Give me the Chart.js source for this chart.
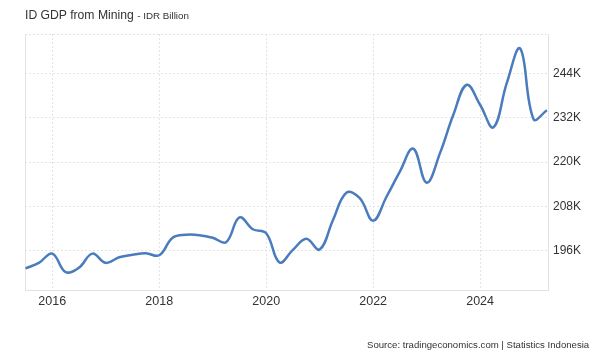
<!DOCTYPE html>
<html>
<head>
<meta charset="utf-8">
<script src="https://cdn.jsdelivr.net/npm/chart.js@4/dist/chart.umd.min.js"></script>
<style>
  html, body { margin: 0; padding: 0; background: #fff; }
  #wrap { position: relative; width: 598px; height: 355px; font-family: "Liberation Sans", Arial, sans-serif; }
  #title { position: absolute; left: 25px; top: 8px; font-size: 12.2px; color: #333; white-space: nowrap; }
  #title span { font-size: 9.8px; }
  #source { position: absolute; left: 367px; top: 339px; font-size: 9.6px; color: #333; white-space: nowrap; }
  canvas { position: absolute; left: 0; top: 0; }
</style>
</head>
<body>
<div id="wrap">
  <canvas id="c" width="598" height="355"></canvas>
  <div id="title">ID GDP from Mining <span>- IDR Billion</span></div>
  <div id="source">Source: tradingeconomics.com | Statistics Indonesia</div>
</div>
<script>
const quarters = [
  "2015Q2","2015Q3","2015Q4",
  "2016Q1","2016Q2","2016Q3","2016Q4",
  "2017Q1","2017Q2","2017Q3","2017Q4",
  "2018Q1","2018Q2","2018Q3","2018Q4",
  "2019Q1","2019Q2","2019Q3","2019Q4",
  "2020Q1","2020Q2","2020Q3","2020Q4",
  "2021Q1","2021Q2","2021Q3","2021Q4",
  "2022Q1","2022Q2","2022Q3","2022Q4",
  "2023Q1","2023Q2","2023Q3","2023Q4",
  "2024Q1","2024Q2","2024Q3","2024Q4",
  "2025Q1"
];
const gdpMining = [
  191200, 192700, 195200,
  190200, 191400, 195200, 192700,
  194200, 194900, 195300, 194750,
  199500, 200300, 200200, 199500,
  198300, 205000, 201800, 200700,
  192800, 196200, 199200, 196300,
  204300, 211700, 210200, 204100,
  210600, 217400, 223600, 214400,
  222400, 232800, 240900, 235500,
  229400, 241400, 250700, 231600,
  234000
];
const yTicks = [196000, 208000, 220000, 232000, 244000];
const xTicks = [2016, 2018, 2020, 2022, 2024];

function quarterToYear(q) {
  const y = parseInt(q.slice(0, 4), 10);
  const n = parseInt(q.slice(5), 10);
  return y + n * 0.25;
}
const points = quarters.map((q, i) => ({ x: quarterToYear(q), y: gdpMining[i] }));

const frame = {
  id: 'frame',
  beforeDatasetsDraw(chart) {
    const { ctx, chartArea: a } = chart;
    ctx.save();
    ctx.strokeStyle = '#e2e2e2';
    ctx.lineWidth = 1;
    ctx.setLineDash([]);
    ctx.beginPath();
    ctx.moveTo(a.left + 0.5, a.top);
    ctx.lineTo(a.left + 0.5, a.bottom);
    ctx.stroke();
    ctx.setLineDash([2, 2]);
    ctx.beginPath();
    ctx.moveTo(a.left, a.top + 0.5);
    ctx.lineTo(a.right, a.top + 0.5);
    ctx.stroke();
    ctx.restore();
  }
};

new Chart(document.getElementById('c'), {
  type: 'line',
  data: {
    datasets: [{
      data: points,
      borderColor: '#4a7cbd',
      borderWidth: 2.5,
      pointRadius: 0,
      tension: 0.4,
      fill: false
    }]
  },
  options: {
    responsive: false,
    animation: false,
    layout: { padding: { left: 25, top: 34, right: 0, bottom: 0 } },
    plugins: { legend: { display: false }, tooltip: { enabled: false }, title: { display: false } },
    scales: {
      x: {
        type: 'linear',
        min: 2015.49,
        max: 2025.27,
        afterBuildTicks(s) { s.ticks = xTicks.map(v => ({ value: v })); },
        afterFit(s) { s.height = 65; },
        ticks: {
          autoSkip: false,
          maxRotation: 0,
          padding: 4,
          color: '#333',
          font: { family: 'Liberation Sans', size: 12.5 },
          callback: v => String(v)
        },
        grid: { color: '#e4e4e4', drawTicks: false },
        border: { display: true, color: '#e2e2e2', dash: [2, 2] }
      },
      y: {
        position: 'right',
        min: 185350,
        max: 254650,
        afterBuildTicks(s) { s.ticks = yTicks.map(v => ({ value: v })); },
        afterFit(s) { s.width = 50; },
        ticks: {
          padding: 5,
          color: '#333',
          font: { family: 'Liberation Sans', size: 12 },
          callback: v => (v / 1000) + 'K'
        },
        grid: { color: '#e4e4e4', drawTicks: false },
        border: { display: true, color: '#e2e2e2', dash: [2, 2] }
      }
    }
  },
  plugins: [frame]
});
</script>
</body>
</html>
